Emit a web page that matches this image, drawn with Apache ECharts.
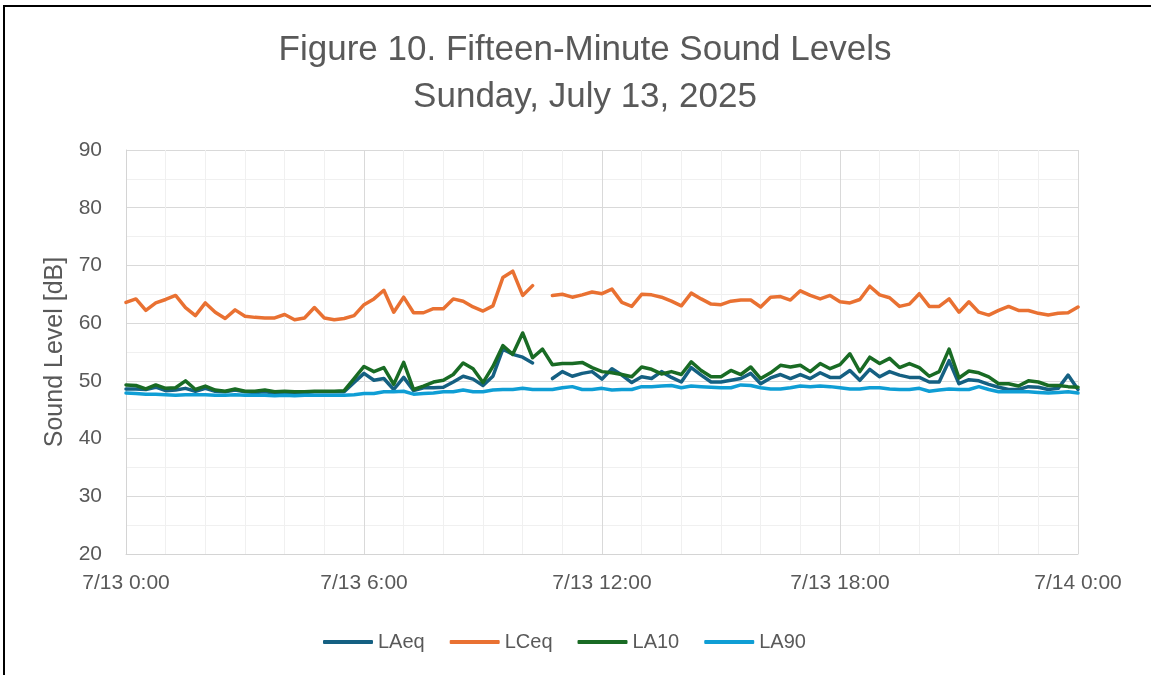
<!DOCTYPE html>
<html>
<head>
<meta charset="utf-8">
<script src="https://cdn.jsdelivr.net/npm/echarts@6/dist/echarts.min.js"></script>
<style>
  html, body { margin: 0; padding: 0; background: #fff; overflow: hidden; }
  #frame { position: absolute; left: 3px; top: 5px; width: 1200px; height: 700px; border: 2px solid #000; }
  #MyChart { position: absolute; left: 0; top: 0; width: 1151px; height: 675px; }
</style>
</head>
<body>
<div id="frame"></div>
<div id="MyChart"></div>
<script>
// 15-minute readings, 7/13 0:00 .. 7/14 0:00 (97 points)
const laeq = [
  48.6, 48.6, 48.5, 48.9, 48.3, 48.4, 48.7, 48.2, 48.7, 48.2, 48.1, 48.4,
  48.1, 48.0, 48.1, 47.9, 48.0, 47.9, 48.0, 48.1, 48.1, 48.1, 48.1, 49.7,
  51.3, 50.1, 50.4, 48.5, 50.6, 48.3, 48.8, 48.8, 48.9, 49.8, 50.8, 50.3,
  49.2, 50.8, 55.5, 54.6, 54.1, 53.1, null, 50.4, 51.6, 50.8, 51.3, 51.6,
  50.3, 52.1, 51.0, 49.7, 50.7, 50.4, 51.6, 50.6, 49.8, 52.3, 51.0, 49.8,
  49.8, 50.1, 50.4, 51.3, 49.5, 50.5, 51.1, 50.4, 51.1, 50.4, 51.4, 50.6,
  50.6, 51.8, 50.1, 52.0, 50.7, 51.6, 51.0, 50.6, 50.6, 49.8, 49.8, 53.5,
  49.5, 50.2, 50.0, 49.4, 48.9, 48.5, 48.5, 49.0, 48.9, 48.5, 48.7, 51.0,
  48.5
];
const lceq = [
  63.6, 64.2, 62.2, 63.5, 64.1, 64.8, 62.7, 61.3, 63.5, 61.9, 60.8, 62.3,
  61.2, 61.0, 60.9, 60.9, 61.5, 60.6, 60.9, 62.7, 60.9, 60.6, 60.8, 61.3,
  63.2, 64.2, 65.7, 61.9, 64.5, 61.8, 61.8, 62.5, 62.5, 64.2, 63.8, 62.8,
  62.1, 63.0, 67.9, 69.0, 64.8, 66.5, null, 64.8, 65.0, 64.5, 64.9, 65.4,
  65.1, 65.9, 63.6, 62.9, 65.0, 64.9, 64.5, 63.8, 63.0, 65.2, 64.2, 63.3,
  63.2, 63.8, 64.0, 64.0, 62.8, 64.5, 64.6, 64.0, 65.6, 64.8, 64.2, 64.8,
  63.7, 63.5, 64.1, 66.4, 64.9, 64.4, 62.9, 63.3, 65.1, 62.9, 62.9, 64.2,
  61.9, 63.7, 61.9, 61.4, 62.2, 62.9, 62.2, 62.2, 61.7, 61.4, 61.7, 61.8,
  62.8
];
const la10 = [
  49.3, 49.2, 48.6, 49.3, 48.7, 48.8, 50.0, 48.5, 49.1, 48.4, 48.2, 48.6,
  48.2, 48.2, 48.4, 48.1, 48.2, 48.1, 48.1, 48.2, 48.2, 48.2, 48.3, 50.4,
  52.5, 51.6, 52.3, 49.4, 53.2, 48.5, 49.1, 49.8, 50.1, 51.1, 53.1, 52.1,
  49.7, 52.5, 56.1, 54.6, 58.3, 54.0, 55.5, 52.8, 53.0, 53.0, 53.2, 52.3,
  51.6, 51.4, 51.1, 50.7, 52.4, 52.0, 51.2, 51.6, 51.1, 53.3, 51.8, 50.7,
  50.7, 51.8, 51.1, 52.4, 50.4, 51.4, 52.7, 52.4, 52.7, 51.6, 53.0, 52.1,
  52.8, 54.7, 51.6, 54.1, 53.0, 53.9, 52.3, 53.0, 52.3, 50.8, 51.6, 55.5,
  50.5, 51.7, 51.4, 50.7, 49.5, 49.5, 49.1, 50.0, 49.8, 49.2, 49.2, 49.0,
  48.9
];
const la90 = [
  47.9, 47.8, 47.7, 47.7, 47.6, 47.5, 47.6, 47.6, 47.6, 47.5, 47.5, 47.6,
  47.5, 47.5, 47.5, 47.4, 47.5, 47.4, 47.5, 47.5, 47.5, 47.5, 47.5, 47.6,
  47.8, 47.8, 48.1, 48.1, 48.2, 47.7, 47.8, 47.9, 48.1, 48.1, 48.4, 48.1,
  48.1, 48.4, 48.5, 48.5, 48.7, 48.5, 48.5, 48.5, 48.8, 49.0, 48.5, 48.5,
  48.7, 48.4, 48.5, 48.5, 49.0, 49.0, 49.1, 49.2, 48.8, 49.1, 49.0, 48.9,
  48.8, 48.8, 49.3, 49.2, 48.8, 48.6, 48.6, 48.8, 49.1, 49.0, 49.1, 49.0,
  48.8, 48.6, 48.6, 48.8, 48.8, 48.6, 48.5, 48.5, 48.7, 48.2, 48.4, 48.6,
  48.5, 48.5, 49.0, 48.5, 48.1, 48.1, 48.1, 48.1, 48.0, 47.9, 48.0, 48.1,
  47.9
];
const xTickLabels = ['7/13 0:00', '7/13 6:00', '7/13 12:00', '7/13 18:00', '7/14 0:00'];
const seriesNames = ['LAeq', 'LCeq', 'LA10', 'LA90'];
const seriesColors = ['#156082', '#E97132', '#196B24', '#0F9ED5'];

const fontFamily = '"Liberation Sans", Arial, sans-serif';
const textColor = '#595959';

// x in hours: point i is i * 15 minutes
function toPairs (arr) {
  return arr.map((v, i) => [i / 4, v]);
}

let myChart = echarts.init(document.getElementById('MyChart'));
let option = {
  animation: false,
  title: {
    text: 'Figure 10. Fifteen-Minute Sound Levels\nSunday, July 13, 2025',
    left: 580,
    top: 22,
    textAlign: 'center',
    textStyle: {
      fontFamily: fontFamily,
      fontSize: 35,
      fontWeight: 'normal',
      color: textColor,
      lineHeight: 47
    }
  },
  legend: {
    data: seriesNames,
    left: 318,
    top: 627,
    icon: 'roundRect',
    itemWidth: 50,
    itemHeight: 4,
    itemGap: 25,
    textStyle: { fontFamily: fontFamily, fontSize: 20, color: textColor }
  },
  grid: {
    left: 126,
    top: 150,
    width: 952,
    height: 404,
    containLabel: false
  },
  xAxis: {
    type: 'value',
    min: 0,
    max: 24,
    interval: 6,
    axisLine: { show: true, lineStyle: { color: '#d4d4d4' } },
    axisTick: { show: false },
    minorTick: { show: false, splitNumber: 6 },
    splitLine: { show: true, lineStyle: { color: '#d9d9d9' } },
    minorSplitLine: { show: true, lineStyle: { color: '#f0f0f0' } },
    axisLabel: {
      margin: 19,
      fontFamily: fontFamily,
      fontSize: 21,
      color: textColor,
      formatter: v => xTickLabels[Math.round(v / 6)]
    }
  },
  yAxis: {
    type: 'value',
    min: 20,
    max: 90,
    interval: 10,
    name: 'Sound Level [dB]',
    nameLocation: 'middle',
    nameGap: 58,
    nameTextStyle: { fontFamily: fontFamily, fontSize: 25, color: textColor },
    axisLine: { show: true, lineStyle: { color: '#d4d4d4' } },
    axisTick: { show: false },
    minorTick: { show: false, splitNumber: 2 },
    splitLine: { show: true, lineStyle: { color: '#d9d9d9' } },
    minorSplitLine: { show: true, lineStyle: { color: '#f0f0f0' } },
    axisLabel: {
      margin: 24,
      fontFamily: fontFamily,
      fontSize: 21,
      color: textColor
    }
  },
  series: [laeq, lceq, la10, la90].map((arr, k) => ({
    name: seriesNames[k],
    type: 'line',
    data: toPairs(arr),
    symbol: 'none',
    connectNulls: false,
    color: seriesColors[k],
    lineStyle: { width: 3.5, color: seriesColors[k], cap: 'round', join: 'round' }
  }))
};
myChart.setOption(option);
</script>
</body>
</html>
